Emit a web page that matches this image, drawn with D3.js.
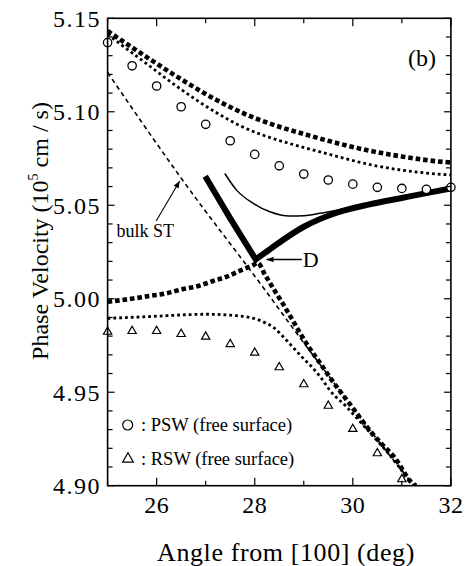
<!DOCTYPE html>
<html>
<head>
<meta charset="utf-8">
<script src="https://cdn.jsdelivr.net/npm/d3@7"></script>
<style>
  html, body { margin: 0; padding: 0; background: #fff; }
  svg text { font-family: "Liberation Serif", "Times New Roman", serif; fill: #000; }
</style>
</head>
<body>
<svg id="chart" width="467" height="566"></svg>
<script>
// ---------- data ----------
const xTickLabels = [26, 28, 30, 32];
const yTickLabels = [4.90, 4.95, 5.00, 5.05, 5.10, 5.15];

// open circles: PSW (free surface)
const pswAngle = [25, 25.5, 26, 26.5, 27, 27.5, 28, 28.5, 29, 29.5, 30, 30.5, 31, 31.5, 32];
const pswVel   = [5.1370, 5.1246, 5.1138, 5.1027, 5.0933, 5.0845, 5.0772, 5.0711, 5.0667, 5.0635, 5.0613, 5.0596, 5.0590, 5.0585, 5.0596];

// open triangles: RSW (free surface)
const rswAngle = [25, 25.5, 26, 26.5, 27, 27.5, 28, 28.5, 29, 29.5, 30, 30.5, 31];
const rswVel   = [4.9823, 4.9827, 4.9827, 4.9811, 4.9797, 4.9757, 4.9711, 4.9633, 4.9542, 4.9427, 4.9303, 4.9173, 4.9034];

// upper square-marked curve
const upSqAngle = [25, 25.73, 26.47, 27.22, 27.83, 28.44, 28.99, 29.67, 30.34, 31.02, 31.94, 32];
const upSqVel   = [5.1432, 5.1304, 5.1179, 5.1063, 5.0985, 5.0925, 5.0882, 5.0833, 5.0792, 5.0760, 5.0730, 5.0729];

// upper dotted curve
const upDotAngle = [25, 25.73, 26.47, 27.22, 27.83, 28.48, 28.99, 29.67, 30.34, 31.02, 31.94, 32];
const upDotVel   = [5.1414, 5.1270, 5.1125, 5.0995, 5.0910, 5.0848, 5.0810, 5.0762, 5.0718, 5.0687, 5.0663, 5.0662];

// lower square-marked curve
const loSqAngle = [25, 25.44, 25.83, 26.2, 26.54, 26.85, 27.15, 27.43, 27.7, 27.97, 28.06, 28.21, 28.39, 28.57, 28.75, 28.92, 29.12, 29.33, 29.53, 29.99, 30.34, 30.58, 30.85, 31.19, 31.29];
const loSqVel   = [4.9984, 4.9998, 5.0014, 5.0029, 5.0052, 5.0068, 5.0095, 5.0118, 5.0150, 5.0180, 5.0192, 5.0128, 5.0050, 4.9975, 4.9895, 4.9818, 4.9734, 4.9657, 4.9580, 4.9419, 4.9297, 4.9226, 4.9151, 4.9020, 4.9000];

// lower dotted curve
const loDotAngle = [25, 25.8, 27.02, 27.5, 27.9, 28.17, 28.41, 28.58, 28.78, 28.99, 29.19, 29.36, 29.53, 29.87, 30.21, 30.55, 30.89, 31.16];
const loDotVel   = [4.9895, 4.9904, 4.9917, 4.9912, 4.9900, 4.9877, 4.9841, 4.9797, 4.9740, 4.9681, 4.9628, 4.9574, 4.9511, 4.9422, 4.9324, 4.9226, 4.9119, 4.9021];

// dashed curve: bulk ST
const bulkAngle = [25, 26.5, 28.3, 28.8, 29.53, 30.34, 31.25];
const bulkVel   = [5.1210, 5.0645, 5.0015, 4.9835, 4.9580, 4.9300, 4.9000];

// thick solid curve (cusp D)
const dLeftAngle  = [26.99, 27.5, 28.02];
const dLeftVel    = [5.0655, 5.0430, 5.0210];
const dRightAngle = [28.02, 28.31, 29.0, 29.67, 30.34, 31.02, 31.5, 32];
const dRightVel   = [5.0210, 5.0265, 5.0385, 5.0460, 5.0505, 5.0540, 5.0565, 5.0590];

// thin solid curve
const thinAngle = [27.39, 27.63, 27.97, 28.31, 28.71, 29.0, 29.33, 29.67, 30.0, 30.5, 31.0, 31.5, 32];
const thinVel   = [5.0670, 5.0581, 5.0510, 5.0465, 5.0442, 5.0444, 5.0457, 5.0474, 5.0492, 5.0520, 5.0545, 5.0570, 5.0595];

// ---------- chart ----------
const svg = d3.select("#chart");
const x = d3.scaleLinear().domain([25, 32]).range([107.6, 450.9]);
const y = d3.scaleLinear().domain([4.90, 5.15]).range([485.7, 18.3]);
const [x0, x1] = x.range();
const [y0, y1] = [y(5.15), y(4.90)];

const zip = (a, b) => a.map((v, i) => [v, b[i]]);

svg.append("defs").append("clipPath").attr("id", "plotclip")
  .append("rect").attr("x", x0).attr("y", y0).attr("width", x1 - x0).attr("height", y1 - y0);

const g = svg.append("g").attr("clip-path", "url(#plotclip)");
const smooth = d3.line().x(d => x(d[0])).y(d => y(d[1])).curve(d3.curveMonotoneX);
const straight = d3.line().x(d => x(d[0])).y(d => y(d[1]));

// dashed bulk ST
g.append("path").attr("d", smooth(zip(bulkAngle, bulkVel)))
  .attr("fill", "none").attr("stroke", "#000").attr("stroke-width", 1.6)
  .attr("stroke-dasharray", "4.5,3.5");

// dotted curves
[[upDotAngle, upDotVel], [loDotAngle, loDotVel]].forEach(([a, v]) => {
  g.append("path").attr("d", smooth(zip(a, v)))
    .attr("fill", "none").attr("stroke", "#000").attr("stroke-width", 2.8)
    .attr("stroke-dasharray", "2.8,3");
});

// square-marked curves
[[upSqAngle, upSqVel], [loSqAngle, loSqVel]].forEach(([a, v]) => {
  g.append("path").attr("d", smooth(zip(a, v)))
    .attr("fill", "none").attr("stroke", "#000").attr("stroke-width", 4.6)
    .attr("stroke-dasharray", "4.6,2.9");
});

// thin solid curve
g.append("path").attr("d", smooth(zip(thinAngle, thinVel)))
  .attr("fill", "none").attr("stroke", "#000").attr("stroke-width", 1.5);

// thick cusp curve
const dPath = straight(zip(dLeftAngle, dLeftVel)) + smooth(zip(dRightAngle, dRightVel)).replace(/^M/, "L");
g.append("path").attr("d", dPath)
  .attr("fill", "none").attr("stroke", "#000").attr("stroke-width", 6)
  .attr("stroke-linejoin", "miter").attr("stroke-miterlimit", 10);

// markers
svg.append("g").selectAll("circle").data(zip(pswAngle, pswVel)).join("circle")
  .attr("cx", d => x(d[0])).attr("cy", d => y(d[1])).attr("r", 4.2)
  .attr("fill", "#fff").attr("stroke", "#000").attr("stroke-width", 1.3);

const tri = d3.symbol().type(d3.symbolTriangle).size(30);
svg.append("g").selectAll("path").data(zip(rswAngle, rswVel)).join("path")
  .attr("d", tri).attr("transform", d => `translate(${x(d[0])},${y(d[1])})`)
  .attr("fill", "#fff").attr("stroke", "#000").attr("stroke-width", 1.2);

// ---------- frame & ticks ----------
svg.append("rect").attr("x", x0).attr("y", y0).attr("width", x1 - x0).attr("height", y1 - y0)
  .attr("fill", "none").attr("stroke", "#000").attr("stroke-width", 1.6);

const yMinor = d3.range(0, 26).map(i => 4.90 + i * 0.01);
const isMajorY = v => Math.abs(v * 20 - Math.round(v * 20)) < 1e-6;
const ticks = svg.append("g").attr("stroke", "#000").attr("stroke-width", 1.2);
yMinor.forEach(v => {
  const len = isMajorY(v) ? 7 : 5;
  ticks.append("line").attr("x1", x0).attr("x2", x0 + len).attr("y1", y(v)).attr("y2", y(v));
  ticks.append("line").attr("x1", x1).attr("x2", x1 - len).attr("y1", y(v)).attr("y2", y(v));
});
d3.range(25, 33).forEach(v => {
  const len = v % 2 === 0 ? 8 : 5;
  ticks.append("line").attr("x1", x(v)).attr("x2", x(v)).attr("y1", y1).attr("y2", y1 - len);
  ticks.append("line").attr("x1", x(v)).attr("x2", x(v)).attr("y1", y0).attr("y2", y0 + len);
});

// tick labels
svg.append("g").selectAll("text").data(yTickLabels).join("text")
  .attr("x", 101).attr("y", d => y(d)).attr("dy", "0.35em")
  .attr("text-anchor", "end").attr("font-size", 24).attr("letter-spacing", 1.5)
  .text(d => d.toFixed(2));
svg.append("g").selectAll("text").data(xTickLabels).join("text")
  .attr("x", d => x(d)).attr("y", 513)
  .attr("text-anchor", "middle").attr("font-size", 24).attr("letter-spacing", 0.5)
  .text(d => d);

// axis titles
svg.append("text").attr("x", 286).attr("y", 561).attr("text-anchor", "middle")
  .attr("font-size", 26).attr("letter-spacing", 0.6).text("Angle from [100]  (deg)");
const yt = svg.append("text").attr("transform", "translate(48,231) rotate(-90)")
  .attr("text-anchor", "middle").attr("font-size", 24);
yt.append("tspan").text("Phase Velocity  (10");
yt.append("tspan").attr("font-size", 14).attr("dy", -10).text("5");
yt.append("tspan").attr("dy", 10).text(" cm / s)");

// panel label
svg.append("text").attr("x", 436).attr("y", 66).attr("text-anchor", "end")
  .attr("font-size", 24).text("(b)");

// annotations
const defs = svg.select("defs");
defs.append("marker").attr("id", "arr").attr("viewBox", "0 0 10 10")
  .attr("refX", 10).attr("refY", 5).attr("markerWidth", 9).attr("markerHeight", 7)
  .attr("markerUnits", "userSpaceOnUse").attr("orient", "auto")
  .append("path").attr("d", "M0,1 L10,5 L0,9 Z").attr("fill", "#000");

svg.append("line").attr("x1", x(25.99)).attr("y1", y(5.0416)).attr("x2", x(26.47)).attr("y2", y(5.063))
  .attr("stroke", "#000").attr("stroke-width", 1.1).attr("marker-end", "url(#arr)");
svg.append("text").attr("x", x(25.18)).attr("y", y(5.0331)).attr("font-size", 18).text("bulk ST");

svg.append("line").attr("x1", x(28.96)).attr("y1", y(5.021)).attr("x2", x(28.24)).attr("y2", y(5.021))
  .attr("stroke", "#000").attr("stroke-width", 1.3).attr("marker-end", "url(#arr)");
svg.append("text").attr("x", x(28.98)).attr("y", y(5.0169)).attr("font-size", 22).text("D");

// legend
svg.append("circle").attr("cx", 127.7).attr("cy", 425).attr("r", 5)
  .attr("fill", "#fff").attr("stroke", "#000").attr("stroke-width", 1.2);
svg.append("text").attr("x", 141).attr("y", 431).attr("font-size", 18.5).text(": PSW (free surface)");
svg.append("path").attr("d", d3.symbol().type(d3.symbolTriangle).size(50)())
  .attr("transform", "translate(128,459)")
  .attr("fill", "#fff").attr("stroke", "#000").attr("stroke-width", 1.2);
svg.append("text").attr("x", 141).attr("y", 465).attr("font-size", 18.5).text(": RSW (free surface)");
</script>
</body>
</html>
